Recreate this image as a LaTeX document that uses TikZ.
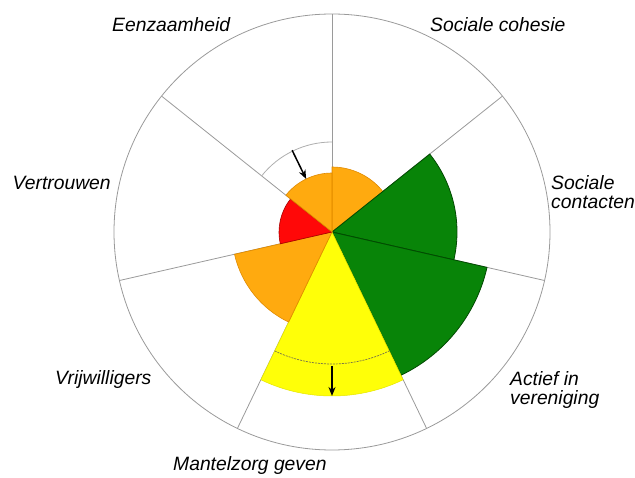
\documentclass[tikz,border=0pt]{standalone}
\usepackage{fontspec}
\setmainfont{Liberation Sans}
\usetikzlibrary{arrows.meta}
\definecolor{gridgray}{HTML}{9A9A9A}
\definecolor{orfill}{HTML}{FFA500}
\definecolor{ordraw}{HTML}{E08A00}
\definecolor{grfill}{HTML}{008000}
\definecolor{grdraw}{HTML}{024A02}
\definecolor{rdfill}{HTML}{FF0000}
\definecolor{rddraw}{HTML}{A80000}
\definecolor{ylfill}{HTML}{FFFF00}
\definecolor{yldraw}{HTML}{E6E600}
\begin{document}
\begin{tikzpicture}[x=1pt,y=1pt,
  lbl/.style={font=\fontsize{19.3}{19.5}\selectfont\itshape, inner sep=0pt, anchor=base west},
  gridline/.style={draw=gridgray, line width=0.8pt},
  refarc/.style={draw=gridgray!80, line width=0.8pt},
  refdash/.style={draw=black!60!yellow, line width=0.7pt, dash pattern=on 2pt off 1pt},
  orwedge/.style={fill=orfill, fill opacity=0.94, draw=ordraw, line width=0.6pt},
  grwedge/.style={fill=grfill, fill opacity=0.97, draw=grdraw, line width=0.8pt},
  rdwedge/.style={fill=rdfill, fill opacity=0.97, draw=rddraw, line width=0.6pt},
  ylwedge/.style={fill=ylfill, fill opacity=0.97, draw=yldraw, line width=0.5pt},
  marker/.style={draw=black, line width=1.5pt, -{Stealth[length=9pt,width=7pt]}}
]
\useasboundingbox (0,0) rectangle (635,477);
\coordinate (C) at (332,245);
% outer circle and sector lines
\draw[gridline] (C) circle[radius=218];
\foreach \a in {90,38.571,-12.857,-64.286,-115.714,-167.143,141.429}
  \draw[gridline] (C) -- ++(\a:218);
% reference arc Eenzaamheid
\draw[refarc] (C) ++(141.429:90) arc[start angle=141.429, end angle=90, radius=90];
% wedges
\draw[orwedge] (C) -- ++(90:65) arc[start angle=90, end angle=38.571, radius=65] -- cycle;
\draw[grwedge] (C) -- ++(38.571:125) arc[start angle=38.571, end angle=-12.857, radius=125] -- cycle;
\draw[grwedge] (C) -- ++(-12.857:159) arc[start angle=-12.857, end angle=-64.286, radius=159] -- cycle;
\draw[ylwedge] (C) -- ++(-64.286:164) arc[start angle=-64.286, end angle=-115.714, radius=164] -- cycle;
\draw[orwedge] (C) -- ++(-115.714:100) arc[start angle=-115.714, end angle=-167.143, radius=100] -- cycle;
\draw[rdwedge] (C) -- ++(-167.143:53) arc[start angle=-167.143, end angle=-218.571, radius=53] -- cycle;
\draw[orwedge] (C) -- ++(141.429:59) arc[start angle=141.429, end angle=90, radius=59] -- cycle;
% reference arc Mantelzorg
\draw[refdash] (C) ++(-115.714:132) arc[start angle=-115.714, end angle=-64.286, radius=132];
% arrows
\path (C) ++(116:91) coordinate (e1);
\path (C) ++(116:59) coordinate (e2);
\path (C) ++(-90:134) coordinate (m1);
\path (C) ++(-90:164) coordinate (m2);
\draw[marker] (e1) -- (e2);
\draw[marker] (m1) -- (m2);
% labels
\node[lbl] (eenz) at (112,445.5) {Eenzaamheid};
\node[lbl] (cohe) at (430,445.5) {Sociale cohesie};
\node[lbl, align=left] (cont) at (551,268) {Sociale\\contacten};
\node[lbl] (vert) at (12.5,287) {Vertrouwen};
\node[lbl] (vrij) at (55,92) {Vrijwilligers};
\node[lbl, align=left] (acti) at (510,72) {Actief in\\vereniging};
\node[lbl] (mant) at (173,7) {Mantelzorg geven};
\end{tikzpicture}
\end{document}
